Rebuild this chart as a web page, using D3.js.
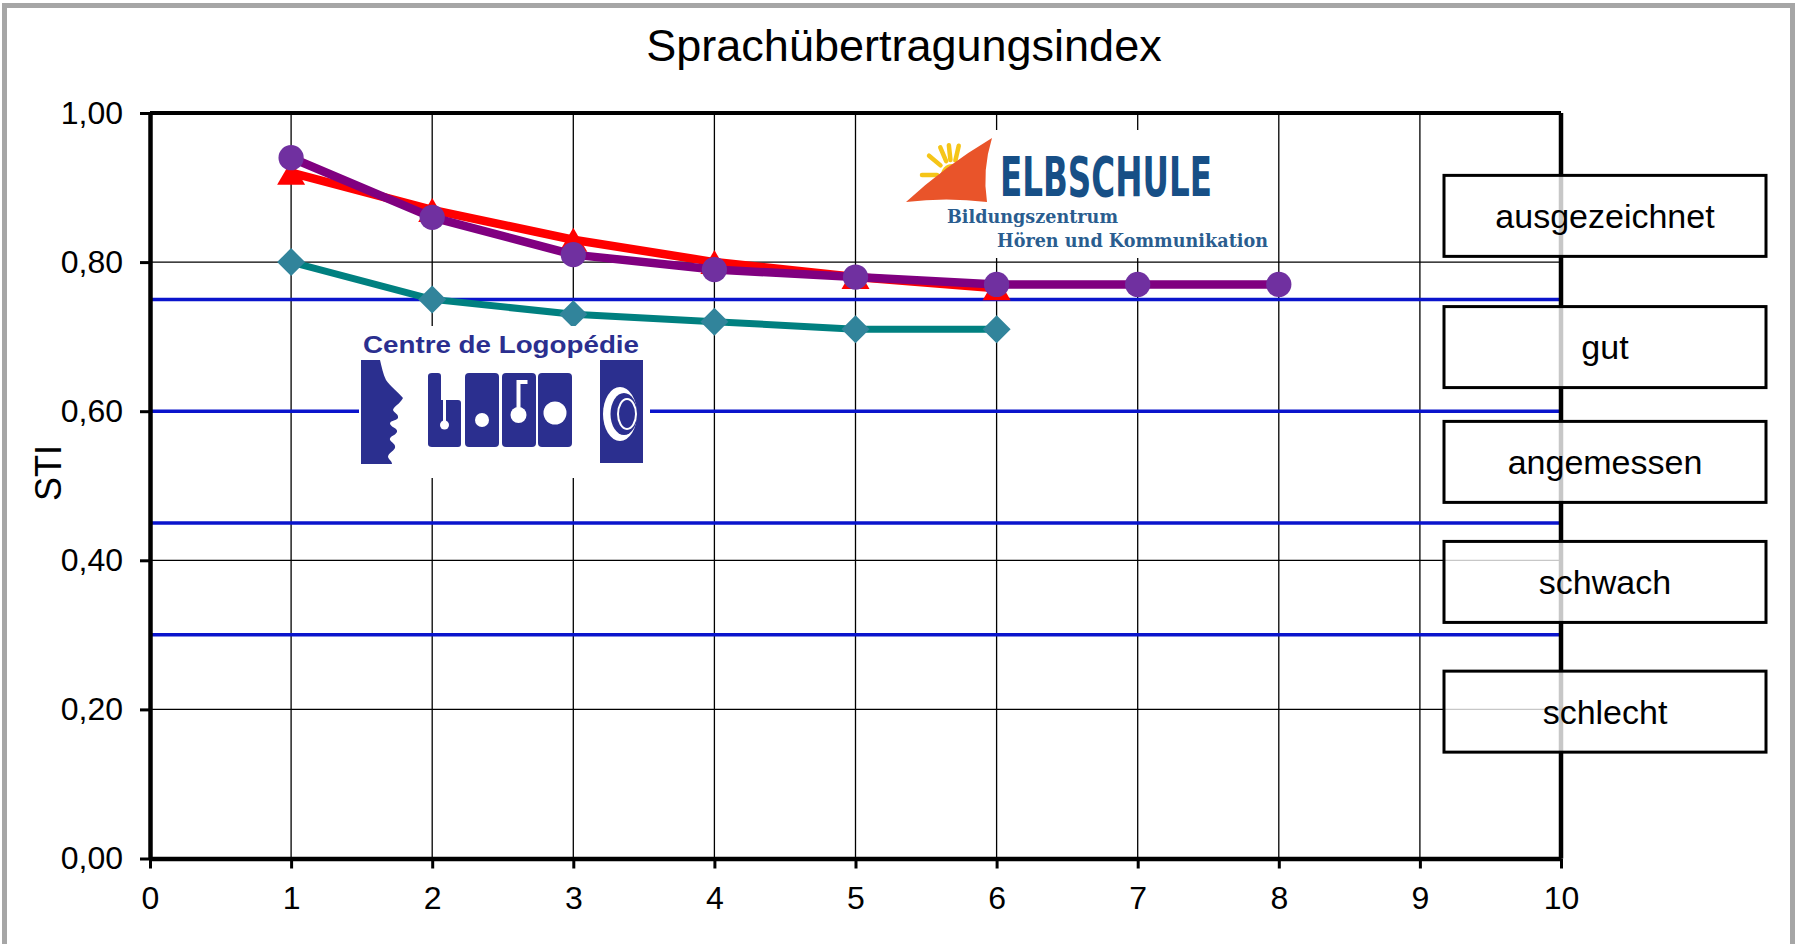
<!DOCTYPE html>
<html>
<head>
<meta charset="utf-8">
<title>Sprachübertragungsindex</title>
<script src="https://cdn.jsdelivr.net/npm/d3@7"></script>
<style>
  body { margin: 0; background: #fff; overflow: hidden; }
  svg { display: block; font-family: "Liberation Sans", Arial, sans-serif; }
</style>
</head>
<body>
<div id="chart"></div>
<script>

// measured values (STI per position)
var positions = [1, 2, 3, 4, 5, 6, 7, 8];
var stiTeal = [0.80, 0.75, 0.73, 0.72, 0.71, 0.71];
var stiRed = [0.92, 0.87, 0.83, 0.80, 0.78, 0.765];
var stiPurple = [0.94, 0.86, 0.81, 0.79, 0.78, 0.77, 0.77, 0.77];

var xTicks = [0, 1, 2, 3, 4, 5, 6, 7, 8, 9, 10];
var yTicks = [0, 0.2, 0.4, 0.6, 0.8, 1.0];

// rating limits (blue lines) and rating boxes
var limits = [0.75, 0.60, 0.45, 0.30];
var ratings = ["ausgezeichnet", "gut", "angemessen", "schwach", "schlecht"];
var ratingSti = [0.862, 0.686, 0.532, 0.371, 0.197];

var W = 1797, H = 944;
var margin = {top: 113, left: 150};
var w = 1411, h = 745.5;

var svg = d3.select("#chart")
  .append("svg")
  .attr("width", W)
  .attr("height", H);

// outer frame
svg.append("rect")
  .attr("x", 4.5).attr("y", 5.5)
  .attr("width", 1788).attr("height", 1000)
  .attr("fill", "#fff")
  .attr("stroke", "#a6a6a6")
  .attr("stroke-width", 5);

// title
svg.append("text")
  .attr("x", 904)
  .attr("y", 61)
  .attr("text-anchor", "middle")
  .style("font-size", "45px")
  .text("Sprachübertragungsindex");

// y label
svg.append("text")
  .attr("transform", "translate(61,473) rotate(-90)")
  .attr("text-anchor", "middle")
  .style("font-size", "36px")
  .text("STI");

var g = svg.append("g")
  .attr("transform", "translate(" + margin.left + "," + margin.top + ")");

var x = d3.scaleLinear().domain([0, 10]).range([0, w]);
var y = d3.scaleLinear().domain([0, 1]).range([h, 0]);

// grid
g.append("g").selectAll("line")
  .data(xTicks.slice(1, -1))
  .enter().append("line")
  .attr("x1", function(d) { return x(d); })
  .attr("x2", function(d) { return x(d); })
  .attr("y1", 0).attr("y2", h)
  .attr("stroke", "#000").attr("stroke-width", 1.3);

g.append("g").selectAll("line")
  .data(yTicks.slice(1, -1))
  .enter().append("line")
  .attr("x1", 0).attr("x2", w)
  .attr("y1", function(d) { return y(d); })
  .attr("y2", function(d) { return y(d); })
  .attr("stroke", "#000").attr("stroke-width", 1.3);

// rating limits
g.append("g").selectAll("line")
  .data(limits)
  .enter().append("line")
  .attr("x1", 0).attr("x2", w)
  .attr("y1", function(d) { return y(d); })
  .attr("y2", function(d) { return y(d); })
  .attr("stroke", "#0a14cc").attr("stroke-width", 3.5);

// ---- logo: Centre de Logopédie
var logo1 = svg.append("g");
var blue = "#2b2f8f";
logo1.append("rect")
  .attr("x", 359).attr("y", 326).attr("width", 291).attr("height", 152)
  .attr("fill", "#fff");
logo1.append("text")
  .attr("x", 363).attr("y", 353)
  .attr("textLength", 276)
  .attr("lengthAdjust", "spacingAndGlyphs")
  .attr("fill", blue)
  .style("font-size", "23px")
  .style("font-weight", "bold")
  .text("Centre de Logopédie");
// face profile
logo1.append("path")
  .attr("d", "M361,360 L380,360 C382,368 383,374 386,380 C390,386 398,392 403,398 C400,404 394,406 393,410 C394,413 399,414 398,418 C396,421 390,420 390,424 C392,428 398,428 397,432 C395,436 389,436 390,440 C392,443 396,444 395,448 C393,452 388,453 388,457 C389,460 392,461 392,464 L361,464 Z")
  .attr("fill", blue);
// LOGO letters
logo1.append("path")
  .attr("d", "M432,373 L438,373 Q441,373 441,376 L441,400 L458,400 Q461,400 461,403 L461,444 Q461,447 458,447 L432,447 Q428,447 428,444 L428,376 Q428,373 432,373 Z")
  .attr("fill", blue);
[465, 502, 538].forEach(function(bx) {
  logo1.append("rect")
    .attr("x", bx).attr("y", 373).attr("width", 34).attr("height", 74)
    .attr("rx", 4).attr("fill", blue);
});
logo1.append("line")
  .attr("x1", 444.5).attr("x2", 444.5).attr("y1", 373).attr("y2", 424)
  .attr("stroke", "#fff").attr("stroke-width", 3);
logo1.append("circle").attr("cx", 444.5).attr("cy", 425).attr("r", 4.5).attr("fill", "#fff");
logo1.append("circle").attr("cx", 482).attr("cy", 420).attr("r", 7).attr("fill", "#fff");
logo1.append("line")
  .attr("x1", 518.5).attr("x2", 518.5).attr("y1", 380).attr("y2", 412)
  .attr("stroke", "#fff").attr("stroke-width", 4);
logo1.append("rect").attr("x", 518.5).attr("y", 380).attr("width", 9).attr("height", 4).attr("fill", "#fff");
logo1.append("circle").attr("cx", 518.5).attr("cy", 415).attr("r", 8).attr("fill", "#fff");
logo1.append("circle").attr("cx", 555).attr("cy", 413).attr("r", 11.5).attr("fill", "#fff");
logo1.append("rect")
  .attr("x", 600).attr("y", 360).attr("width", 43).attr("height", 103)
  .attr("fill", blue);
logo1.append("ellipse")
  .attr("cx", 620).attr("cy", 414).attr("rx", 17).attr("ry", 27)
  .attr("fill", "#fff");
logo1.append("ellipse")
  .attr("cx", 624).attr("cy", 414).attr("rx", 13.5).attr("ry", 21)
  .attr("fill", blue);
logo1.append("ellipse")
  .attr("cx", 627).attr("cy", 414).attr("rx", 9).attr("ry", 15)
  .attr("fill", "none").attr("stroke", "#fff").attr("stroke-width", 2);

// ---- logo: ELBSCHULE
var logo2 = svg.append("g");
logo2.append("rect")
  .attr("x", 902).attr("y", 130).attr("width", 373).attr("height", 128)
  .attr("fill", "#fff");
var sun = [952, 175];
[180, 220, 247, 264, 283].forEach(function(a) {
  var r = a * Math.PI / 180;
  logo2.append("line")
    .attr("x1", sun[0] + 15 * Math.cos(r)).attr("y1", sun[1] + 15 * Math.sin(r))
    .attr("x2", sun[0] + 30 * Math.cos(r)).attr("y2", sun[1] + 30 * Math.sin(r))
    .attr("stroke", "#f5c518").attr("stroke-width", 4.5).attr("stroke-linecap", "round");
});
logo2.append("circle").attr("cx", sun[0]).attr("cy", sun[1]).attr("r", 11).attr("fill", "#f5c518");
logo2.append("path")
  .attr("d", "M906,202 Q945,166 992,138 Q982,170 987,202 Q946,197 906,202 Z")
  .attr("fill", "#e9542a");
logo2.append("text")
  .attr("x", 1000).attr("y", 196)
  .attr("textLength", 212)
  .attr("lengthAdjust", "spacingAndGlyphs")
  .attr("fill", "#174f86")
  .style("font-family", "'DejaVu Sans Condensed', 'DejaVu Sans', sans-serif")
  .style("font-size", "56px")
  .style("font-weight", "bold")
  .text("ELBSCHULE");
logo2.append("text")
  .attr("x", 947).attr("y", 223)
  .attr("textLength", 171)
  .attr("lengthAdjust", "spacingAndGlyphs")
  .attr("fill", "#2a5d8f")
  .style("font-family", "'DejaVu Serif', 'Liberation Serif', serif")
  .style("font-size", "19px")
  .style("font-weight", "bold")
  .text("Bildungszentrum");
logo2.append("text")
  .attr("x", 997).attr("y", 247)
  .attr("textLength", 271)
  .attr("lengthAdjust", "spacingAndGlyphs")
  .attr("fill", "#2a5d8f")
  .style("font-family", "'DejaVu Serif', 'Liberation Serif', serif")
  .style("font-size", "19px")
  .style("font-weight", "bold")
  .text("Hören und Kommunikation");

// axes
var de = d3.formatLocale({decimal: ",", thousands: ".", grouping: [3], currency: ["", " €"]});

var yAxis = d3.axisLeft(y)
  .tickValues(yTicks)
  .tickFormat(de.format(".2f"))
  .tickSize(10).tickSizeOuter(0).tickPadding(17);

var xAxis = d3.axisBottom(x)
  .tickValues(xTicks)
  .tickFormat(d3.format("d"))
  .tickSize(10).tickSizeOuter(0).tickPadding(18);

var gy = g.append("g").call(yAxis);
var gx = g.append("g").attr("transform", "translate(0," + h + ")").call(xAxis);

[gx, gy].forEach(function(a) {
  a.select(".domain").attr("stroke", "#000").attr("stroke-width", 4.5);
  a.selectAll(".tick line").attr("stroke", "#000").attr("stroke-width", 3);
  a.selectAll(".tick text")
    .attr("fill", "#000")
    .style("font-family", "'Liberation Sans', Arial, sans-serif")
    .style("font-size", "32px");
});

// top and right border
g.append("line")
  .attr("x1", 0).attr("x2", w).attr("y1", y(1)).attr("y2", y(1))
  .attr("stroke", "#000").attr("stroke-width", 4);
g.append("line")
  .attr("x1", x(10)).attr("x2", x(10)).attr("y1", y(1)).attr("y2", y(0))
  .attr("stroke", "#000").attr("stroke-width", 4.5);

// series
var line = d3.line()
  .x(function(d, i) { return x(positions[i]); })
  .y(function(d) { return y(d); });

function triangle(s, t) {
  return "M0," + (-t / 2) + "L" + (s / 2) + "," + (t / 2) + "L" + (-s / 2) + "," + (t / 2) + "Z";
}

var series = [
  {values: stiTeal, line: "#008080", marker: "#31849b", width: 7, shape: d3.symbol(d3.symbolSquare, 392)(), rotate: 45},
  {values: stiRed, line: "#ff0000", marker: "#ff0000", width: 8.5, shape: triangle(28, 24), rotate: 0},
  {values: stiPurple, line: "#800080", marker: "#7030a0", width: 8.5, shape: d3.symbol(d3.symbolCircle, 500)(), rotate: 0}
];

series.forEach(function(s) {
  var sg = g.append("g");
  sg.append("path")
    .attr("d", line(s.values))
    .attr("fill", "none")
    .attr("stroke", s.line)
    .attr("stroke-width", s.width)
    .attr("stroke-linejoin", "round");
  sg.selectAll("path.m")
    .data(s.values)
    .enter().append("path")
    .attr("class", "m")
    .attr("d", s.shape)
    .attr("fill", s.marker)
    .attr("transform", function(d, i) {
      return "translate(" + x(positions[i]) + "," + y(d) + ") rotate(" + s.rotate + ")";
    });
});

// rating boxes
var boxLeft = 1294, boxW = 322, boxH = 81;
var boxes = g.append("g").selectAll("g")
  .data(ratings)
  .enter().append("g")
  .attr("transform", function(d, i) {
    return "translate(" + boxLeft + "," + (y(ratingSti[i]) - boxH / 2) + ")";
  });

boxes.append("rect")
  .attr("width", boxW).attr("height", boxH)
  .attr("fill", "#fff").attr("fill-opacity", 0.78)
  .attr("stroke", "#000").attr("stroke-width", 3);

boxes.append("text")
  .attr("x", boxW / 2)
  .attr("y", boxH / 2 + 12)
  .attr("text-anchor", "middle")
  .style("font-size", "34px")
  .text(function(d) { return d; });

</script>
</body>
</html>
